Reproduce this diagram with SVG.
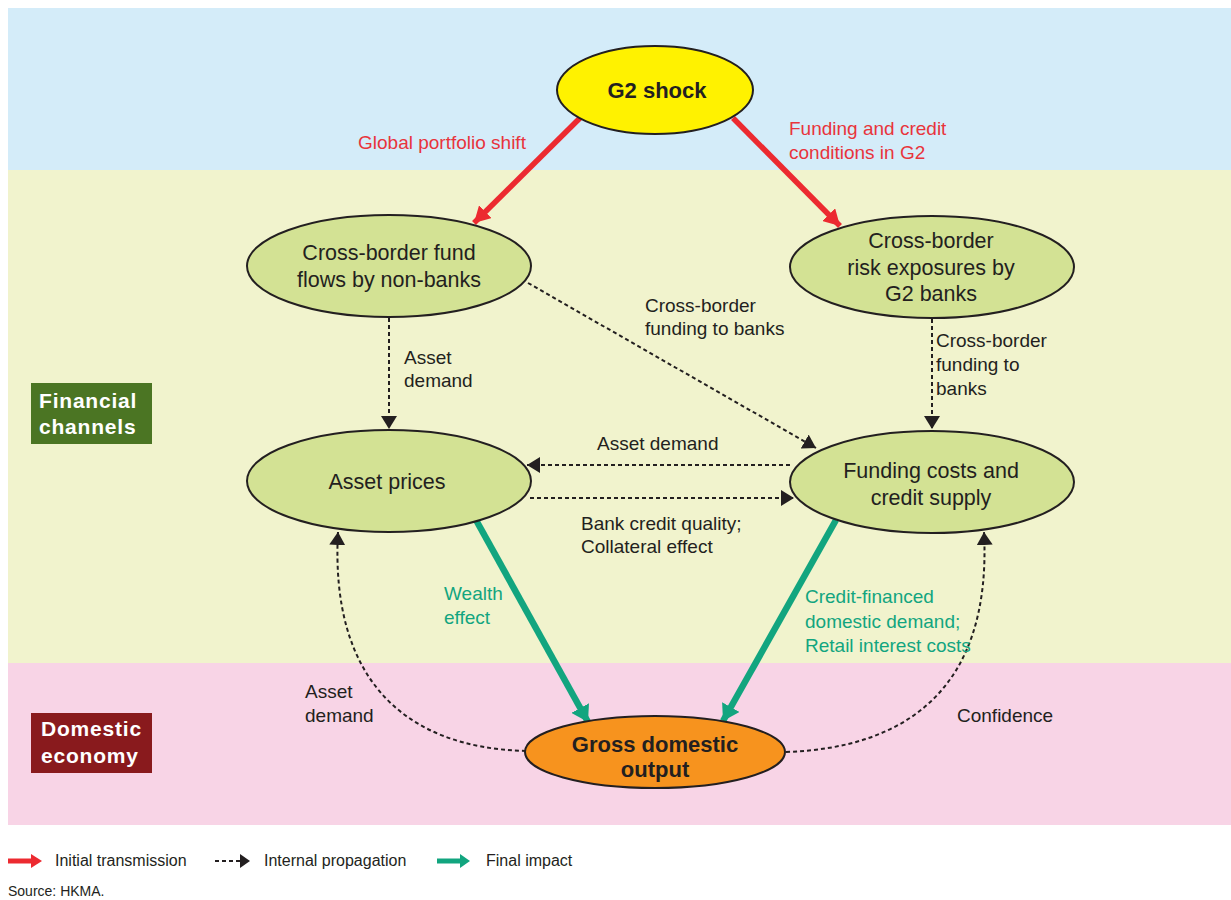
<svg xmlns="http://www.w3.org/2000/svg" width="1231" height="900" viewBox="0 0 1231 900">
<style>
text{font-family:"Liberation Sans",Arial,sans-serif;fill:#231f20}
.node{font-size:21.5px}
.bold{font-weight:bold;font-size:22px}
.lbl{font-size:19px}
.red{fill:#e8343c}
.grn{fill:#12a57f}
.box{font-size:21px;font-weight:bold;fill:#ffffff;letter-spacing:0.8px}
.leg{font-size:16px}
.ell{fill:#d3e294;stroke:#231f20;stroke-width:2}
.dash{fill:none;stroke:#231f20;stroke-width:2;stroke-dasharray:4 3}
.redl{fill:none;stroke:#ec2a30;stroke-width:5.5}
.grnl{fill:none;stroke:#12a57f;stroke-width:6.5}
</style>
<defs>
<marker id="hb" viewBox="0 0 13 16" refX="13" refY="8" markerWidth="13" markerHeight="16" markerUnits="userSpaceOnUse" orient="auto"><path d="M0,0 L13,8 L0,16 z" fill="#231f20"/></marker>
<marker id="hr" viewBox="0 0 16 18" refX="16" refY="9" markerWidth="16" markerHeight="18" markerUnits="userSpaceOnUse" orient="auto"><path d="M0,0 L16,9 L0,18 z" fill="#ec2a30"/></marker>
<marker id="hg" viewBox="0 0 16 20" refX="16" refY="10" markerWidth="16" markerHeight="20" markerUnits="userSpaceOnUse" orient="auto"><path d="M0,0 L16,10 L0,20 z" fill="#12a57f"/></marker>
</defs>
<rect x="0" y="0" width="1231" height="900" fill="#ffffff"/>
<g id="bands">
<rect x="8" y="8" width="1223" height="162" fill="#d4ecf9"/>
<rect x="8" y="170" width="1223" height="493" fill="#f1f3cd"/>
<rect x="8" y="663" width="1223" height="162" fill="#f8d4e6"/>
</g>
<g id="band-labels">
<rect x="31" y="383" width="121" height="61" fill="#4b7523"/>
<text class="box" x="39" y="408">Financial</text>
<text class="box" x="39" y="434">channels</text>
<rect x="31" y="713" width="121" height="60" fill="#891a1d"/>
<text class="box" x="41" y="736">Domestic</text>
<text class="box" x="41" y="763">economy</text>
</g>
<g id="connectors">
<line class="redl" x1="580" y1="118" x2="474" y2="223" marker-end="url(#hr)"/>
<line class="redl" x1="733" y1="118" x2="840" y2="226" marker-end="url(#hr)"/>
<line class="dash" x1="389" y1="318" x2="389" y2="429" marker-end="url(#hb)"/>
<line class="dash" x1="528" y1="283" x2="816" y2="448" marker-end="url(#hb)"/>
<line class="dash" x1="932" y1="319" x2="932" y2="429" marker-end="url(#hb)"/>
<line class="dash" x1="790" y1="465" x2="527" y2="465" marker-end="url(#hb)"/>
<line class="dash" x1="530" y1="498" x2="794" y2="498" marker-end="url(#hb)"/>
<line class="grnl" x1="476" y1="520" x2="588" y2="722" marker-end="url(#hg)"/>
<line class="grnl" x1="836" y1="520" x2="723" y2="721" marker-end="url(#hg)"/>
<path class="dash" d="M526,751 C405,748 330,680 338,532" marker-end="url(#hb)"/>
<path class="dash" d="M786,752 C905,748 992,690 984,532" marker-end="url(#hb)"/>
</g>
<g id="edge-labels">
<text class="lbl red" x="358" y="149">Global portfolio shift</text>
<text class="lbl red" x="789" y="135">Funding and credit</text>
<text class="lbl red" x="789" y="159">conditions in G2</text>
<text class="lbl" x="645" y="312">Cross-border</text>
<text class="lbl" x="645" y="335">funding to banks</text>
<text class="lbl" x="404" y="364">Asset</text>
<text class="lbl" x="404" y="387">demand</text>
<text class="lbl" x="936" y="347">Cross-border</text>
<text class="lbl" x="936" y="371">funding to</text>
<text class="lbl" x="936" y="395">banks</text>
<text class="lbl" x="597" y="450">Asset demand</text>
<text class="lbl" x="581" y="530">Bank credit quality;</text>
<text class="lbl" x="581" y="553">Collateral effect</text>
<text class="lbl grn" x="444" y="600">Wealth</text>
<text class="lbl grn" x="444" y="624">effect</text>
<text class="lbl grn" x="805" y="603">Credit-financed</text>
<text class="lbl grn" x="805" y="628">domestic demand;</text>
<text class="lbl grn" x="805" y="652">Retail interest costs</text>
<text class="lbl" x="305" y="698">Asset</text>
<text class="lbl" x="305" y="722">demand</text>
<text class="lbl" x="957" y="722">Confidence</text>
</g>
<g id="node-g2">
<ellipse cx="655" cy="90" rx="98" ry="44" fill="#fff200" stroke="#231f20" stroke-width="2"/>
<text class="bold" x="657" y="98" text-anchor="middle">G2 shock</text>
</g>
<g id="node-fundflows">
<ellipse class="ell" cx="389" cy="266" rx="142" ry="51"/>
<text class="node" x="389" y="260" text-anchor="middle">Cross-border fund</text>
<text class="node" x="389" y="287" text-anchor="middle">flows by non-banks</text>
</g>
<g id="node-riskexp">
<ellipse class="ell" cx="932" cy="267" rx="142" ry="51"/>
<text class="node" x="931" y="248" text-anchor="middle">Cross-border</text>
<text class="node" x="931" y="275" text-anchor="middle">risk exposures by</text>
<text class="node" x="931" y="301" text-anchor="middle">G2 banks</text>
</g>
<g id="node-assetprices">
<ellipse class="ell" cx="389" cy="481" rx="142" ry="51"/>
<text class="node" x="387" y="489" text-anchor="middle">Asset prices</text>
</g>
<g id="node-funding">
<ellipse class="ell" cx="932" cy="482" rx="142" ry="51"/>
<text class="node" x="931" y="478" text-anchor="middle">Funding costs and</text>
<text class="node" x="931" y="505" text-anchor="middle">credit supply</text>
</g>
<g id="node-gdp">
<ellipse cx="655" cy="752" rx="130" ry="36" fill="#f7931e" stroke="#231f20" stroke-width="2"/>
<text class="bold" x="655" y="752" text-anchor="middle">Gross domestic</text>
<text class="bold" x="655" y="777" text-anchor="middle">output</text>
</g>
<g id="legend">
<line x1="8" y1="861" x2="32" y2="861" stroke="#ec2a30" stroke-width="5"/>
<path d="M31,854 L42,861 L31,868 z" fill="#ec2a30"/>
<text class="leg" x="55" y="866">Initial transmission</text>
<line x1="215" y1="861" x2="242" y2="861" stroke="#231f20" stroke-width="2" stroke-dasharray="4 3"/>
<path d="M240,854 L250,861 L240,868 z" fill="#231f20"/>
<text class="leg" x="264" y="866">Internal propagation</text>
<line x1="437" y1="861" x2="462" y2="861" stroke="#12a57f" stroke-width="5"/>
<path d="M460,854 L470,861 L460,868 z" fill="#12a57f"/>
<text class="leg" x="486" y="866">Final impact</text>
<text x="8" y="896" font-size="14">Source: HKMA.</text>
</g>
</svg>
